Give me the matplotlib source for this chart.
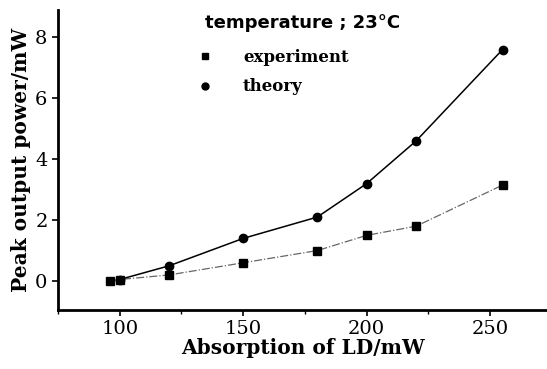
import matplotlib
matplotlib.use("Agg")
import matplotlib.pyplot as plt
from matplotlib.lines import Line2D
from matplotlib.ticker import MultipleLocator

exp_x = [96, 100, 120, 150, 180, 200, 220, 255]
exp_y = [0.0, 0.05, 0.2, 0.6, 1.0, 1.5, 1.8, 3.15]
th_x = [100, 120, 150, 180, 200, 220, 255]
th_y = [0.05, 0.5, 1.4, 2.1, 3.2, 4.6, 7.6]
xticks = [100, 150, 200, 250]
yticks = [0, 2, 4, 6, 8]

plt.rcParams['font.family'] = ['DejaVu Serif']

fig = plt.figure(figsize=(5.47, 3.69), dpi=100)
ax = fig.add_axes([0.106, 0.16, 0.894, 0.813])

ax.plot(exp_x, exp_y, linestyle='-.', color='0.4', lw=0.9, marker='s', ms=6,
        mfc='black', mec='black')
ax.plot(th_x, th_y, linestyle='-', color='black', lw=1.1, marker='o', ms=6,
        mfc='black', mec='black')

ax.set_xlim(75, 273)
ax.set_ylim(-0.95, 8.9)
ax.set_xticks(xticks)
ax.set_yticks(yticks)
ax.xaxis.set_minor_locator(MultipleLocator(25))
ax.spines['top'].set_visible(False)
ax.spines['right'].set_visible(False)
ax.spines['left'].set_linewidth(2)
ax.spines['bottom'].set_linewidth(2)
ax.tick_params(axis='both', labelsize=14, width=1.2, length=4)
ax.tick_params(axis='x', which='minor', length=3, width=1.0)

ax.set_xlabel('Absorption of LD/mW', fontsize=14.5, fontweight='bold', labelpad=0)
ax.set_ylabel('Peak output power/mW', fontsize=14.5, fontweight='bold', labelpad=3)

ax.text(0.30, 0.955, 'temperature ; 23°C', transform=ax.transAxes, fontsize=13,
        fontweight='bold', family=['DejaVu Sans'], va='center', ha='left')
handles = [Line2D([], [], ls='none', marker='s', color='black', ms=5),
           Line2D([], [], ls='none', marker='o', color='black', ms=5)]
ax.legend(handles, ['experiment', 'theory'], loc='upper left',
          bbox_to_anchor=(0.235, 0.92), frameon=False,
          prop={'weight': 'bold', 'size': 12}, handletextpad=1.3, labelspacing=0.75)

fig.savefig('out.png', dpi=100)
